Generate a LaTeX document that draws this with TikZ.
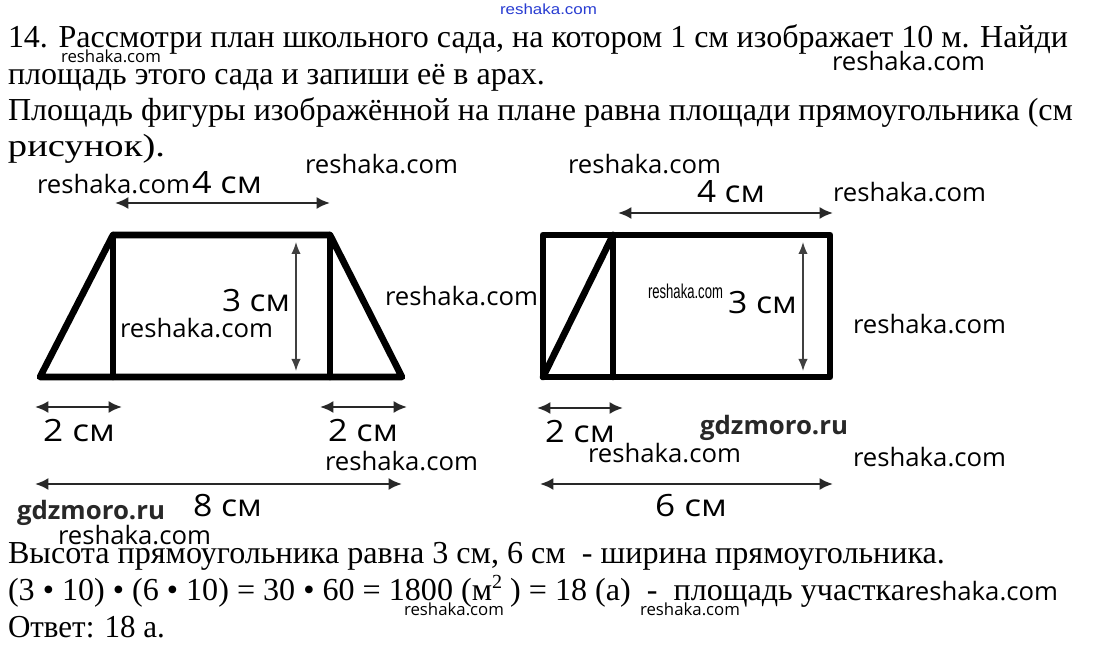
\documentclass[tikz,border=0pt]{standalone}
\usepackage{fontspec}
\setmainfont{Liberation Serif}
\newfontfamily\osans{Open Sans}
\newfontfamily\lsans{Liberation Sans}
\usepackage{graphicx}
\usetikzlibrary{arrows.meta}
\definecolor{wmblue}{RGB}{40,60,210}
\definecolor{labc}{RGB}{40,40,40}
\newlength\fitlen
\newcommand\fitw[2]{\settowidth\fitlen{#2}\pgfmathsetmacro\fitratio{#1*0.75/\fitlen}\scalebox{\fitratio}[1]{#2}}
\newcommand\mt[2]{\fitw{#1}{\fontsize{24}{28}\selectfont #2}}
\newcommand\lb[2]{\fitw{#1}{\osans\fontsize{23}{27}\selectfont #2}}
\newcommand\wm{\fitw{153}{\osans\fontsize{19}{23}\selectfont reshaka.com}}
\newcommand\wms{\fitw{100}{\osans\fontsize{12.5}{15}\selectfont reshaka.com}}
\tikzset{
  txt/.style={anchor=base west, inner sep=0pt, outer sep=0pt},
  fig/.style={line width=5pt, line join=round, line cap=round, draw=black},
  dimarr/.style={line width=1.8pt, draw=labc, {Latex[length=10pt,width=9pt]}-{Latex[length=10pt,width=9pt]}},
  vdim/.style={line width=1.1pt, draw=black!75, {Latex[length=9pt,width=7pt]}-{Latex[length=9pt,width=7pt]}},
}
\begin{document}
\begin{tikzpicture}[x=0.75pt,y=-0.75pt]
\fill[white] (0,0) rectangle (1093,648);
\useasboundingbox (0,0) rectangle (1093,648);

% ---- text lines ----
\node[txt] (wblue) at (500,15) {\fitw{97}{\lsans\fontsize{11}{13}\selectfont\color{wmblue}reshaka.com}};
\node[txt] (l1) at (8,48) {\mt{1060}{14. Рассмотри план школьного сада, на котором 1 см изображает 10 м. Найди}};
\node[txt] (w1) at (61,63) {\wms};
\node[txt] (w2) at (832,71) {\wm};
\node[txt] (l2) at (8,85) {\mt{537}{площадь этого сада и запиши её в арах.}};
\node[txt] (l3) at (8,121) {\mt{1065}{Площадь фигуры изображённой на плане равна площади прямоугольника (см}};
\node[txt] (l4) at (8,157) {\mt{157}{рисунок).}};

% ---- watermarks around figures ----
\node[txt] (w3) at (305,174) {\wm};
\node[txt] (w4) at (568,174) {\wm};
\node[txt] (w5) at (37,194) {\wm};
\node[txt] (w6) at (833,202) {\wm};

% ---- left figure ----
\coordinate (tA) at (40,377);
\coordinate (tB) at (113,235);
\coordinate (tC) at (330,235);
\coordinate (tD) at (402,377);
\coordinate (tE) at (113,377);
\coordinate (tF) at (330,377);
\draw[fig] (tA) -- (tB) -- (tC) -- (tD) -- cycle;
\draw[fig] (tB) -- (tE);
\draw[fig] (tC) -- (tF);

\coordinate (a1s) at (115,203); \coordinate (a1e) at (330,203);
\draw[dimarr] (a1s) -- (a1e);
\node[txt] (lb4a) at (192,194) {\lb{70}{4 см}};
\coordinate (v1s) at (296,242); \coordinate (v1e) at (296,371);
\draw[vdim] (v1s) -- (v1e);
\node[txt] (lb3a) at (222,312) {\lb{68}{3 см}};
\node[txt] (w7) at (385,306) {\wm};
\node[txt] (w8) at (120,338) {\wm};

\coordinate (a2s) at (35,407); \coordinate (a2e) at (122,407);
\draw[dimarr] (a2s) -- (a2e);
\node[txt] (lb2a) at (43,442) {\lb{72}{2 см}};
\coordinate (a3s) at (320,407); \coordinate (a3e) at (407,407);
\draw[dimarr] (a3s) -- (a3e);
\node[txt] (lb2b) at (328,442) {\lb{70}{2 см}};
\node[txt] (w9) at (325,471) {\wm};
\coordinate (a4s) at (35,484); \coordinate (a4e) at (402,484);
\draw[dimarr] (a4s) -- (a4e);
\node[txt] (lb8) at (193,517) {\lb{69}{8 см}};
\node[txt] (gd1) at (17,520) {\fitw{148}{\osans\bfseries\fontsize{19}{23}\selectfont\color{labc}gdzmoro.ru}};
\node[txt] (w10) at (58,544) {\wm};

% ---- right figure ----
\coordinate (rA) at (543,377);
\coordinate (rB) at (543,235);
\coordinate (rC) at (830,235);
\coordinate (rD) at (830,377);
\coordinate (rE) at (613,235);
\coordinate (rF) at (613,377);
\draw[fig] (rA) -- (rB) -- (rC) -- (rD) -- cycle;
\draw[fig] (rE) -- (rF);
\draw[fig] (rA) -- (rE);

\coordinate (b1s) at (618,213); \coordinate (b1e) at (833,213);
\draw[dimarr] (b1s) -- (b1e);
\node[txt] (lb4b) at (697,203) {\lb{68}{4 см}};
\coordinate (v2s) at (803,242); \coordinate (v2e) at (803,371);
\draw[vdim] (v2s) -- (v2e);
\node[txt] (lb3b) at (728,314) {\lb{69}{3 см}};
\node[txt] (wm12) at (648,299) {\fitw{75}{\lsans\fontsize{15}{18}\selectfont reshaka.com}};
\node[txt] (w11) at (853,334) {\wm};

\coordinate (b2s) at (537,408); \coordinate (b2e) at (623,408);
\draw[dimarr] (b2s) -- (b2e);
\node[txt] (lb2c) at (545,443) {\lb{70}{2 см}};
\node[txt] (gd2) at (700,435) {\fitw{148}{\osans\bfseries\fontsize{19}{23}\selectfont\color{labc}gdzmoro.ru}};
\node[txt] (w13) at (588,463) {\wm};
\node[txt] (w14) at (853,467) {\wm};
\coordinate (b3s) at (540,484); \coordinate (b3e) at (833,484);
\draw[dimarr] (b3s) -- (b3e);
\node[txt] (lb6) at (655,517) {\lb{72}{6 см}};

% ---- bottom text ----
\node[txt] (l5) at (8,563) {\mt{937}{Высота прямоугольника равна 3 см, 6 см\ \ - ширина прямоугольника.}};
\node[txt] (l6) at (8,600) {\mt{897}{(3 • 10) • (6 • 10) = 30 • 60 = 1800 (м\raisebox{0.75ex}{\fontsize{15}{15}\selectfont 2} ) = 18 (а)\ \ -\ \ площадь участка}};
\node[txt] (w15) at (905,600) {\wm};
\node[txt] (w16) at (404,615) {\wms};
\node[txt] (w17) at (640,615) {\wms};
\node[txt] (l7) at (8,637) {\mt{157}{Ответ: 18 а.}};
\end{tikzpicture}
\end{document}
